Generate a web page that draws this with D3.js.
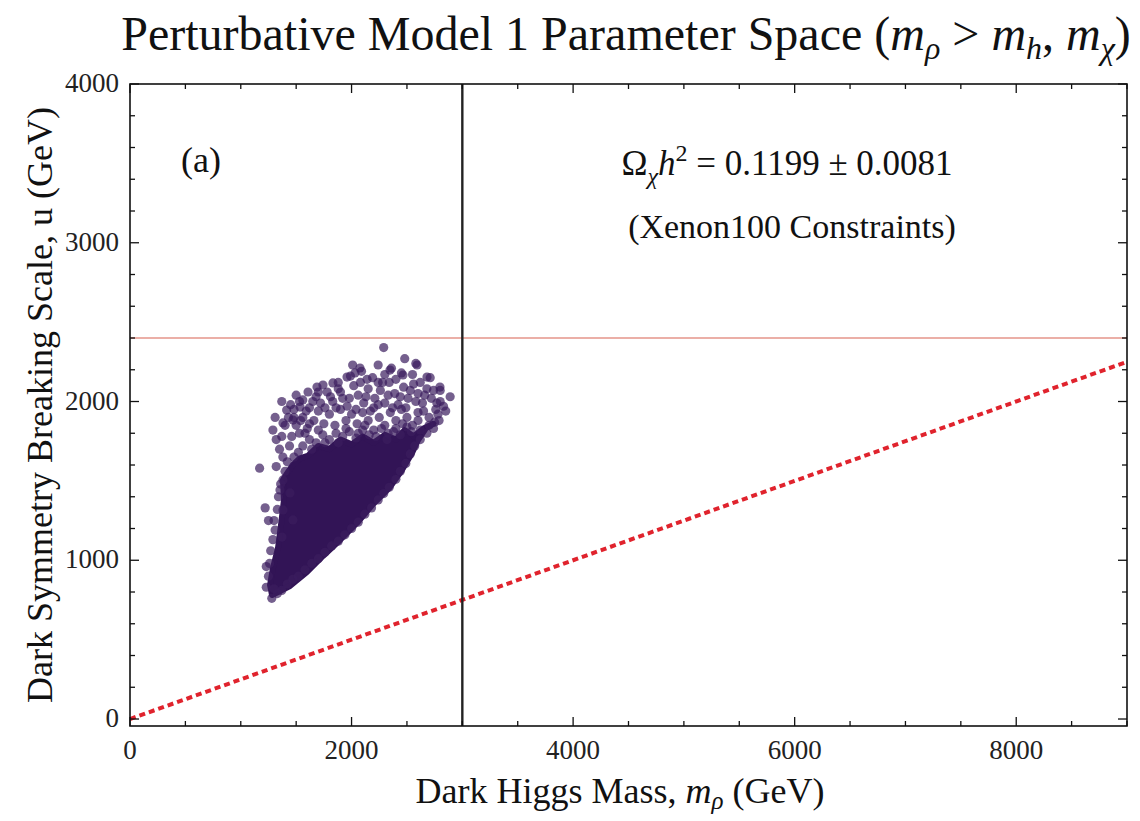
<!DOCTYPE html>
<html>
<head>
<meta charset="utf-8">
<script src="https://cdn.jsdelivr.net/npm/d3@7"></script>
<style>
  body { margin: 0; background: #fff; }
  svg { font-family: "Liberation Serif", "DejaVu Serif", serif; }
</style>
</head>
<body>
<svg id="chart" width="1140" height="821"></svg>
<script>
// axis ticks
const xTicks = [0, 2000, 4000, 6000, 8000];
const yTicks = [0, 1000, 2000, 3000, 4000];

// constraint lines
const massCut = 3000;       // vertical black line
const xenonU = 2400;        // horizontal red line
const diagLine = [[0, 0], [9000, 2250]]; // u = m/4 dotted line

// solid (overlapping) part of the scatter cloud, [m, u]
const coreOutline = [
  [1282, 781], [1444, 838], [1598, 926], [1742, 1027], [1896, 1128],
  [2049, 1235], [2194, 1354], [2347, 1461], [2455, 1569], [2546, 1676],
  [2600, 1757], [2672, 1833], [2740, 1860], [2650, 1830], [2560, 1780],
  [2480, 1820], [2400, 1760], [2300, 1790], [2200, 1740], [2100, 1780],
  [2000, 1730], [1900, 1760], [1800, 1700], [1700, 1720], [1610, 1660],
  [1530, 1640], [1470, 1600], [1430, 1560], [1381, 1506], [1390, 1380],
  [1363, 1222], [1336, 1077], [1291, 951], [1264, 844]
];

// individual scatter points, [m, u]
const points = [
  [2290, 2340], [2480, 2270], [2580, 2240], [2010, 2230], [2240, 2230],
  [2090, 2190], [2360, 2210], [2450, 2180], [2550, 2170], [2710, 2150],
  [2890, 2030], [2800, 2070], [2240, 2120], [1990, 2160], [1370, 2000],
  [1310, 1900], [1290, 1820], [1320, 1760], [1170, 1580], [2830, 1970],
  [2750, 1870], [1320, 1590], [1220, 1330], [1250, 1250], [1310, 1190],
  [1230, 960], [1230, 830], [1280, 760],
  [1607, 2060], [1688, 2091], [1742, 2104], [1832, 2117], [1959, 2154],
  [2031, 2180], [2076, 2211], [2347, 2198], [2464, 2167], [2591, 2230],
  [2681, 2154], [2798, 2091],
  [1450, 1980], [1500, 2040], [1560, 2010], [1620, 1960], [1680, 2030],
  [1720, 1990], [1780, 2060], [1830, 2000], [1880, 2080], [1920, 2020],
  [1960, 1970], [2020, 2100], [2060, 2040], [2110, 1990], [2150, 2080],
  [2190, 2150], [2210, 2020], [2260, 2070], [2300, 1990], [2340, 2120],
  [2390, 2050], [2420, 1980], [2470, 2090], [2510, 2020], [2560, 2110],
  [2600, 2050], [2640, 1990], [2680, 2080], [2720, 2020], [2760, 1950],
  [2800, 2000], [2850, 1940], [2700, 1900], [2600, 1930], [1480, 1900],
  [1400, 1850], [1370, 1780], [1350, 1700], [1380, 1650], [1400, 1560],
  [1360, 1480], [1340, 1400], [1330, 1320], [1300, 1250], [1290, 1130],
  [1270, 1060], [1260, 980], [1250, 900], [1300, 820], [1330, 790],
  [1370, 810], [1420, 850], [1470, 880], [1520, 900], [1580, 940],
  [1640, 980], [1700, 1010], [1760, 1050], [1820, 1090], [1880, 1120],
  [1940, 1160], [2000, 1200], [2060, 1240], [2120, 1290], [2180, 1330],
  [2240, 1380], [2290, 1420], [2340, 1460], [2400, 1510], [2440, 1560],
  [2490, 1610], [2530, 1670], [2570, 1720], [2620, 1760], [2680, 1800],
  [2740, 1830], [2790, 1880],
  [1414, 1946], [1471, 1883], [1381, 1865], [1535, 1965], [1381, 1506],
  [1444, 1424], [1354, 1443], [1381, 1317], [1471, 1254], [1372, 1146],
  [1500, 1850], [1560, 1900], [1600, 1830], [1660, 1880], [1700, 1940],
  [1750, 1860], [1800, 1920], [1850, 1850], [1900, 1950], [1950, 1880],
  [2000, 1920], [2050, 1860], [2100, 1930], [2150, 1880], [2200, 1960],
  [2250, 1900], [2300, 1850], [2350, 1930], [2400, 1880], [2450, 1950],
  [2500, 1900], [2550, 1850], [2600, 1880], [2650, 1940], [2700, 1850],
  [2780, 1920], [1440, 1720], [1420, 1620], [1460, 1780], [1530, 1800],
  [1560, 1720], [1620, 1760], [1680, 1740], [1740, 1790], [1800, 1760],
  [1860, 1800], [1920, 1780], [1980, 1810], [2040, 1770], [2100, 1820],
  [2160, 1790], [2220, 1780], [2270, 1830], [2330, 1800], [2380, 1810],
  [2440, 1790], [2500, 1840], [2540, 1810], [2620, 1820], [1520, 1680],
  [1480, 1650], [1640, 1700], [1760, 1740], [1880, 1740], [2060, 1800],
  [2320, 1760], [2460, 1860], [2200, 1820], [1950, 1830], [1700, 1820],
  [1620, 1860], [1580, 1800], [2120, 1850], [2400, 1830],
  [1480, 1950], [1530, 2000], [1590, 1940], [1650, 2000], [1700, 2060],
  [1760, 1960], [1810, 2030], [1860, 1960], [1900, 2060], [1980, 2020],
  [2040, 1950], [2080, 2120], [2130, 2030], [2170, 1940], [2240, 1980],
  [2280, 2120], [2330, 2040], [2370, 1960], [2440, 2030], [2490, 1960],
  [2530, 2070], [2580, 2000], [2620, 2120], [2660, 2040], [2740, 2070],
  [2770, 1990], [1430, 1900], [1540, 1880], [2300, 2170], [2400, 2140],
  [2140, 2140], [1880, 2120]
];

const svg = d3.select("#chart");

const x = d3.scaleLinear().domain([0, 9000]).range([130, 1127]);
const y = d3.scaleLinear().domain([-44, 4000]).range([726, 84]);

const x0 = x.range()[0], x1 = x.range()[1];
const yTop = y.range()[1], yBot = y.range()[0];

svg.append("clipPath").attr("id", "plotclip")
  .append("rect")
  .attr("x", x0).attr("y", yTop)
  .attr("width", x1 - x0).attr("height", yBot - yTop);

const plot = svg.append("g").attr("clip-path", "url(#plotclip)");

// xenon bound
plot.append("line")
  .attr("x1", x0).attr("x2", x1)
  .attr("y1", y(xenonU)).attr("y2", y(xenonU))
  .attr("stroke", "#e4958a")
  .attr("stroke-width", 1.6);

// dotted u = m/4 line
plot.append("line")
  .attr("x1", x(diagLine[0][0])).attr("y1", y(diagLine[0][1]))
  .attr("x2", x(diagLine[1][0])).attr("y2", y(diagLine[1][1]))
  .attr("stroke", "#e0232d")
  .attr("stroke-width", 4)
  .attr("stroke-dasharray", "6,4");

// scatter core
plot.append("path")
  .datum(coreOutline)
  .attr("d", d3.line().x(d => x(d[0])).y(d => y(d[1])).curve(d3.curveLinearClosed))
  .attr("fill", "#321456")
  .attr("stroke", "#321456")
  .attr("stroke-width", 6)
  .attr("stroke-linejoin", "round");

// scatter dots
plot.selectAll(".pt")
  .data(points)
  .enter()
  .append("circle")
  .attr("class", "pt")
  .attr("cx", d => x(d[0]))
  .attr("cy", d => y(d[1]))
  .attr("r", 4.6)
  .attr("fill", "#3a1c5e")
  .attr("fill-opacity", 0.7);

// vertical mass cut
plot.append("line")
  .attr("x1", x(massCut)).attr("x2", x(massCut))
  .attr("y1", yTop).attr("y2", yBot)
  .attr("stroke", "#222")
  .attr("stroke-width", 2.4);

// frame
svg.append("rect")
  .attr("x", x0).attr("y", yTop)
  .attr("width", x1 - x0).attr("height", yBot - yTop)
  .attr("fill", "none")
  .attr("stroke", "#111")
  .attr("stroke-width", 1.6);

// ticks on all four sides, pointing inward
const xMinor = d3.range(0, 9001, 500);
const yMinor = d3.range(0, 4001, 200);
const tickLen = v => (v % 2000 === 0 ? 9 : 5);
const tickLenY = v => (v % 1000 === 0 ? 9 : 5);

const tk = svg.append("g").attr("stroke", "#111").attr("stroke-width", 1.3);
xMinor.forEach(v => {
  tk.append("line").attr("x1", x(v)).attr("x2", x(v)).attr("y1", yBot).attr("y2", yBot - tickLen(v));
  tk.append("line").attr("x1", x(v)).attr("x2", x(v)).attr("y1", yTop).attr("y2", yTop + tickLen(v));
});
yMinor.forEach(v => {
  tk.append("line").attr("y1", y(v)).attr("y2", y(v)).attr("x1", x0).attr("x2", x0 + tickLenY(v));
  tk.append("line").attr("y1", y(v)).attr("y2", y(v)).attr("x1", x1).attr("x2", x1 - tickLenY(v));
});

// tick labels
svg.selectAll(".xl")
  .data(xTicks)
  .enter()
  .append("text")
  .attr("class", "xl")
  .attr("x", d => x(d))
  .attr("y", yBot + 33)
  .attr("text-anchor", "middle")
  .style("font-size", "27px")
  .attr("fill", "#222")
  .text(d => d);

svg.selectAll(".yl")
  .data(yTicks)
  .enter()
  .append("text")
  .attr("class", "yl")
  .attr("x", x0 - 11)
  .attr("y", d => y(d) + 8)
  .attr("text-anchor", "end")
  .style("font-size", "27px")
  .attr("fill", "#222")
  .text(d => d);

// title
const title = svg.append("text")
  .attr("x", 626)
  .attr("y", 50)
  .attr("text-anchor", "middle")
  .style("font-size", "48px")
  .attr("fill", "#111");
title.append("tspan").text("Perturbative Model 1 Parameter Space (");
title.append("tspan").style("font-style", "italic").text("m");
title.append("tspan").attr("dy", 9).style("font-size", "32px").style("font-style", "italic").text("ρ");
title.append("tspan").attr("dy", -9).text(" > ");
title.append("tspan").style("font-style", "italic").text("m");
title.append("tspan").attr("dy", 9).style("font-size", "32px").style("font-style", "italic").text("h");
title.append("tspan").attr("dy", -9).text(", ");
title.append("tspan").style("font-style", "italic").text("m");
title.append("tspan").attr("dy", 9).style("font-size", "32px").style("font-style", "italic").text("χ");
title.append("tspan").attr("dy", -9).text(")");

// panel tag
svg.append("text")
  .attr("x", 201).attr("y", 172)
  .attr("text-anchor", "middle")
  .style("font-size", "36px")
  .attr("fill", "#111")
  .text("(a)");

// relic density note
const eq = svg.append("text")
  .attr("x", 787).attr("y", 175)
  .attr("text-anchor", "middle")
  .style("font-size", "35px")
  .attr("fill", "#111");
eq.append("tspan").text("Ω");
eq.append("tspan").attr("dy", 9).style("font-size", "24px").style("font-style", "italic").text("χ");
eq.append("tspan").attr("dy", -9).style("font-style", "italic").text("h");
eq.append("tspan").attr("dy", -14).style("font-size", "24px").text("2");
eq.append("tspan").attr("dy", 14).text(" = 0.1199 ± 0.0081");

svg.append("text")
  .attr("x", 792).attr("y", 238)
  .attr("text-anchor", "middle")
  .style("font-size", "34px")
  .attr("fill", "#111")
  .text("(Xenon100 Constraints)");

// axis titles
const xt = svg.append("text")
  .attr("x", 620).attr("y", 803)
  .attr("text-anchor", "middle")
  .style("font-size", "36px")
  .attr("fill", "#111");
xt.append("tspan").text("Dark Higgs Mass, ");
xt.append("tspan").style("font-style", "italic").text("m");
xt.append("tspan").attr("dy", 6).style("font-size", "25px").style("font-style", "italic").text("ρ");
xt.append("tspan").attr("dy", -6).text(" (GeV)");

svg.append("text")
  .attr("transform", "translate(52,405) rotate(-90)")
  .attr("text-anchor", "middle")
  .style("font-size", "36px")
  .attr("fill", "#111")
  .text("Dark Symmetry Breaking Scale, u (GeV)");
</script>
</body>
</html>
